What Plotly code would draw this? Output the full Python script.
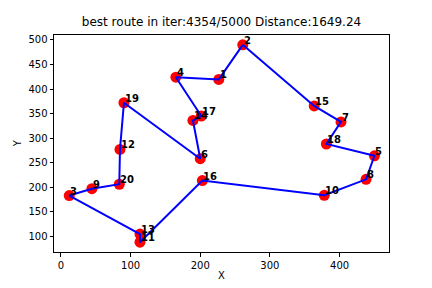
import plotly.graph_objects as go

city_ids = list(range(1, 21))
city_x = [226.6, 261, 12, 165, 450, 200, 402, 438, 44.5, 378, 113.5, 84.8, 113.5, 189.5, 363.5, 203, 201.5, 381, 90.5, 83.8]
city_y = [419.5, 490, 183, 424, 264, 258, 333, 216, 197, 183.5, 88, 277, 104.5, 336, 365.5, 213.5, 345, 288, 372, 206]
route = [2, 15, 7, 18, 5, 8, 10, 16, 11, 13, 3, 9, 20, 12, 19, 6, 14, 17, 4, 1, 2]
title_text = "best route in iter:4354/5000 Distance:1649.24"

rx = [city_x[c - 1] for c in route]
ry = [city_y[c - 1] for c in route]

fig = go.Figure()
fig.add_trace(go.Scatter(x=city_x, y=city_y, mode="markers",
                         marker=dict(color="red", size=11, line=dict(width=0)),
                         showlegend=False, hoverinfo="skip"))
fig.add_trace(go.Scatter(x=rx, y=ry, mode="lines",
                         line=dict(color="blue", width=2),
                         showlegend=False, hoverinfo="skip"))

for i, (x, y) in enumerate(zip(city_x, city_y)):
    fig.add_annotation(x=x, y=y, text="<b>%d</b>" % city_ids[i], showarrow=False,
                       xanchor="left", yanchor="bottom", xshift=-1, yshift=-3,
                       font=dict(family="DejaVu Sans", size=10, color="black"))

fig.add_annotation(xref="paper", yref="paper", x=0.5, y=-0.11, text="X", showarrow=False,
                   xanchor="center", yanchor="middle", font=dict(family="DejaVu Sans", size=10, color="black"))
fig.add_annotation(xref="paper", yref="paper", x=-0.108, y=0.5, text="Y", showarrow=False,
                   textangle=-90, xanchor="center", yanchor="middle",
                   font=dict(family="DejaVu Sans", size=10, color="black"))

axis_common = dict(showgrid=False, zeroline=False, showline=True, linecolor="black", linewidth=1,
                   mirror=True, ticks="outside", ticklen=3.5, tickwidth=1, tickcolor="black",
                   tickfont=dict(family="DejaVu Sans", size=10, color="black"))

fig.update_layout(
    width=432, height=288,
    margin=dict(l=54, r=43, t=35, b=36),
    paper_bgcolor="white", plot_bgcolor="white",
    title=dict(text=title_text, x=(54 + 389) / 2 / 432, xanchor="center",
               y=1 - 22 / 288, yanchor="middle", yref="container",
               font=dict(family="DejaVu Sans", size=12, color="black")),
    xaxis=dict(range=[-9.9, 470.9], tickvals=[0, 100, 200, 300, 400], **axis_common),
    yaxis=dict(range=[68, 510], tickvals=[100, 150, 200, 250, 300, 350, 400, 450, 500], **axis_common),
)

fig.write_html("out.html")
